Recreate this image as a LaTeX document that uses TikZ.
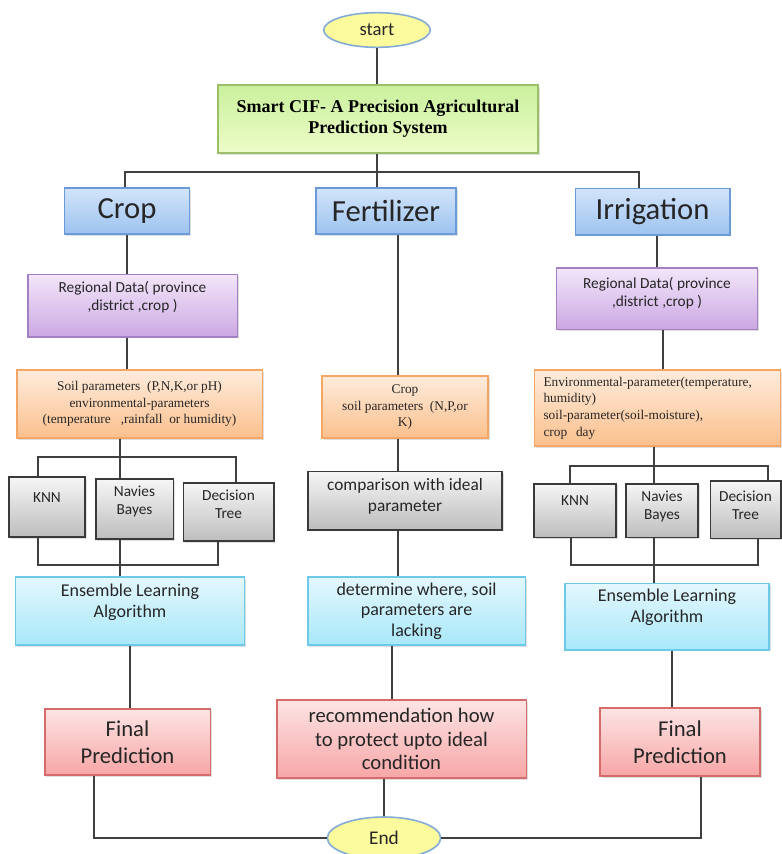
\documentclass[tikz,border=0pt]{standalone}
\usepackage{fontspec}
\setmainfont{Liberation Serif}
\setsansfont{Carlito}
\usetikzlibrary{shapes.geometric,shadows}

\definecolor{headline}{RGB}{106,155,216}
\definecolor{headtop}{RGB}{210,228,251}
\definecolor{headbot}{RGB}{157,195,239}
\definecolor{regline}{RGB}{163,127,196}
\definecolor{regtop}{RGB}{242,230,249}
\definecolor{regbot}{RGB}{204,168,227}
\definecolor{soilline}{RGB}{245,165,100}
\definecolor{soiltop}{RGB}{254,236,220}
\definecolor{soilbot}{RGB}{251,192,141}
\definecolor{algline}{RGB}{58,58,58}
\definecolor{algtop}{RGB}{246,246,246}
\definecolor{algbot}{RGB}{189,189,189}
\definecolor{ensline}{RGB}{108,201,232}
\definecolor{enstop}{RGB}{228,247,253}
\definecolor{ensbot}{RGB}{169,232,250}
\definecolor{finline}{RGB}{213,107,107}
\definecolor{fintop}{RGB}{253,228,228}
\definecolor{finbot}{RGB}{247,166,166}
\definecolor{titleline}{RGB}{156,192,106}
\definecolor{titletop}{RGB}{201,240,156}
\definecolor{titlebot}{RGB}{238,252,201}
\definecolor{termline}{RGB}{130,172,214}
\definecolor{termfill}{RGB}{251,250,156}

\tikzset{every picture/.style={line width=0.75pt}}
\tikzset{
  box/.style={draw, rectangle, align=center, inner sep=2pt, line width=1pt, text=black!85,
    drop shadow={shadow xshift=1.2pt, shadow yshift=-1.2pt, opacity=0.25}},
  titlebox/.style={box, draw=titleline, top color=titletop, bottom color=titlebot, text=black,
    font=\bfseries\fontsize{13.5}{15.75}\selectfont},
  headbox/.style={box, draw=headline, top color=headtop, bottom color=headbot,
    font=\sffamily\fontsize{23}{26}\selectfont},
  regbox/.style={box, draw=regline, top color=regtop, bottom color=regbot,
    font=\sffamily\fontsize{11.5}{13.5}\selectfont},
  soilbox/.style={box, draw=soilline, top color=soiltop, bottom color=soilbot,
    font=\fontsize{10}{12.5}\selectfont},
  algbox/.style={box, draw=algline, top color=algtop, bottom color=algbot,
    font=\sffamily\fontsize{11.5}{13.5}\selectfont},
  ensbox/.style={box, draw=ensline, top color=enstop, bottom color=ensbot,
    font=\sffamily\fontsize{13.5}{15.5}\selectfont},
  finbox/.style={box, draw=finline, top color=fintop, bottom color=finbot,
    font=\sffamily\fontsize{17}{20}\selectfont},
  term/.style={ellipse, draw=termline, fill=termfill, line width=1.2pt, inner sep=0pt, text=black!85,
    font=\sffamily\fontsize{14}{16}\selectfont},
  wire/.style={draw=black!75, line width=1.1pt},
}

\begin{document}
\begin{tikzpicture}[x=0.75pt,y=0.75pt,yscale=-1,xscale=1]

\useasboundingbox[fill=white] (0,0) rectangle (782,854);

% top
\node[term, minimum width=80pt, minimum height=26pt] (start) at (377,30) {start};
\node[titlebox, minimum width=240pt, minimum height=51pt] (title) at (378,119) {Smart CIF- A Precision Agricultural\\Prediction System};

% three branches
\node[headbox, minimum width=94pt, minimum height=34.5pt] (crop) at (127,211) {Crop};
\node[headbox, minimum width=105pt, minimum height=34.5pt] (fert) at (386,211) {Fertilizer};
\node[headbox, minimum width=116pt, minimum height=35pt] (irr) at (652.5,211.5) {Irrigation};

% inputs
\node[regbox, minimum width=157pt, minimum height=47pt, text depth=15pt] (cropreg) at (132.5,305.5) {Regional Data( province\\,district ,crop )};
\node[regbox, minimum width=151pt, minimum height=46pt, text depth=10.5pt] (irrreg) at (657,298.5) {Regional Data( province\\,district ,crop )};

\node[soilbox, minimum width=184pt, minimum height=51pt] (cropsoil) at (139.5,404) {Soil parameters~~(P,N,K,or pH)\\environmental-parameters\\(temperature~~~,rainfall~~or humidity)};
\node[soilbox, minimum width=124.5pt, minimum height=46.5pt] (fertsoil) at (405,407) {Crop\\soil parameters~~(N,P,or\\K)};
\node[soilbox, align=left, text width=171pt, inner xsep=6.75pt, minimum height=57pt] (irrsoil) at (657.5,408) {Environmental-parameter(temperature,\\humidity)\\soil-parameter(soil-moisture),\\crop~~day};

% algorithms
\node[algbox, minimum width=57pt, minimum height=45pt, text depth=13.5pt] (knn1) at (47,507) {KNN};
\node[algbox, minimum width=58pt, minimum height=45pt, text depth=13.5pt] (nb1) at (134.5,509) {Navies\\Bayes};
\node[algbox, minimum width=68pt, minimum height=43.5pt, text depth=12pt] (dt1) at (228.5,512) {Decision\\Tree};
\node[algbox, minimum width=145.5pt, minimum height=44pt, text depth=9pt, font=\sffamily\fontsize{13}{15.75}\selectfont] (comp) at (405,500.5) {comparison with ideal\\parameter};
\node[algbox, minimum width=61.5pt, minimum height=40pt, text depth=15pt] (knn3) at (575,510.5) {KNN};
\node[algbox, minimum width=54pt, minimum height=40pt, text depth=7.5pt] (nb3) at (662,510.5) {Navies\\Bayes};
\node[algbox, minimum width=53pt, minimum height=43pt, text depth=6.75pt] (dt3) at (745.5,509.5) {Decision\\Tree};

\node[ensbox, minimum width=172pt, minimum height=51pt, text depth=15pt] (ens1) at (130,611) {Ensemble Learning\\Algorithm};
\node[ensbox, minimum width=163pt, minimum height=51pt] (det) at (416.5,611) {determine where, soil\\parameters are\\lacking};
\node[ensbox, minimum width=153pt, minimum height=50pt, text depth=15.75pt] (ens3) at (667,616.5) {Ensemble Learning\\Algorithm};

% outputs
\node[finbox, minimum width=124pt, minimum height=49.5pt] (fin1) at (127.5,742) {Final\\Prediction};
\node[finbox, minimum width=187pt, minimum height=58.5pt, font=\sffamily\fontsize{15.5}{17.6}\selectfont] (rec) at (401.5,739) {recommendation how\\to protect upto ideal\\condition};
\node[finbox, minimum width=120pt, minimum height=51pt] (fin3) at (680,742) {Final\\Prediction};

\node[term, minimum width=85pt, minimum height=31.5pt, font=\sffamily\fontsize{14.5}{16}\selectfont] (end) at (384,838) {End};

% wires
\coordinate (topbusl) at (125,172);
\coordinate (topbusr) at (639,172);
\coordinate (cmlt) at (120,457);
\coordinate (cmltl) at (38,457);
\coordinate (cmltr) at (236,457);
\coordinate (cmlbl) at (38,565);
\coordinate (cmlbr) at (218,565);
\coordinate (fertline) at (398,0);
\coordinate (recline) at (392,0);
\coordinate (irrline) at (663,0);
\coordinate (iml) at (654,466);
\coordinate (imltl) at (570,466);
\coordinate (imltr) at (768,466);
\coordinate (imlbl) at (571,565);
\coordinate (imlbr) at (758,565);
\coordinate (finline3) at (672,0);
\coordinate (endl) at (94,838);
\coordinate (endr) at (701,838);

\draw[wire] (start) -- (start |- title.north);
\draw[wire] (start |- title.south) -- (start |- fert.north);
\draw[wire] (topbusl |- crop.north) -- (topbusl) -- (topbusr) -- (topbusr |- irr.north);

\draw[wire] (crop.south) -- (crop.south |- cropreg.north);
\draw[wire] (crop.south |- cropreg.south) -- (crop.south |- cropsoil.north);
\draw[wire] (cmlt |- cropsoil.south) -- (cmlt |- nb1.north);
\draw[wire] (cmltl |- knn1.north) -- (cmltl) -- (cmltr) -- (cmltr |- dt1.north);
\draw[wire] (cmlbl |- knn1.south) -- (cmlbl) -- (cmlbr) -- (cmlbr |- dt1.south);
\draw[wire] (cmlt |- nb1.south) -- (cmlt |- ens1.north);
\draw[wire] (ens1.south) -- (ens1.south |- fin1.north);
\draw[wire] (endl |- fin1.south) -- (endl) -- (end.west);

\draw[wire] (fertline |- fert.south) -- (fertline |- fertsoil.north);
\draw[wire] (fertline |- fertsoil.south) -- (fertline |- comp.north);
\draw[wire] (fertline |- comp.south) -- (fertline |- det.north);
\draw[wire] (recline |- det.south) -- (recline |- rec.north);
\draw[wire] (end.north |- rec.south) -- (end.north);

\draw[wire] (irrreg.north |- irr.south) -- (irrreg.north);
\draw[wire] (irrline |- irrreg.south) -- (irrline |- irrsoil.north);
\draw[wire] (iml |- irrsoil.south) -- (iml |- nb3.north);
\draw[wire] (imltl |- knn3.north) -- (imltl) -- (imltr) -- (imltr |- dt3.north);
\draw[wire] (imlbl |- knn3.south) -- (imlbl) -- (imlbr) -- (imlbr |- dt3.south);
\draw[wire] (iml |- nb3.south) -- (iml |- ens3.north);
\draw[wire] (finline3 |- ens3.south) -- (finline3 |- fin3.north);
\draw[wire] (endr |- fin3.south) -- (endr) -- (end.east);

\end{tikzpicture}
\end{document}
